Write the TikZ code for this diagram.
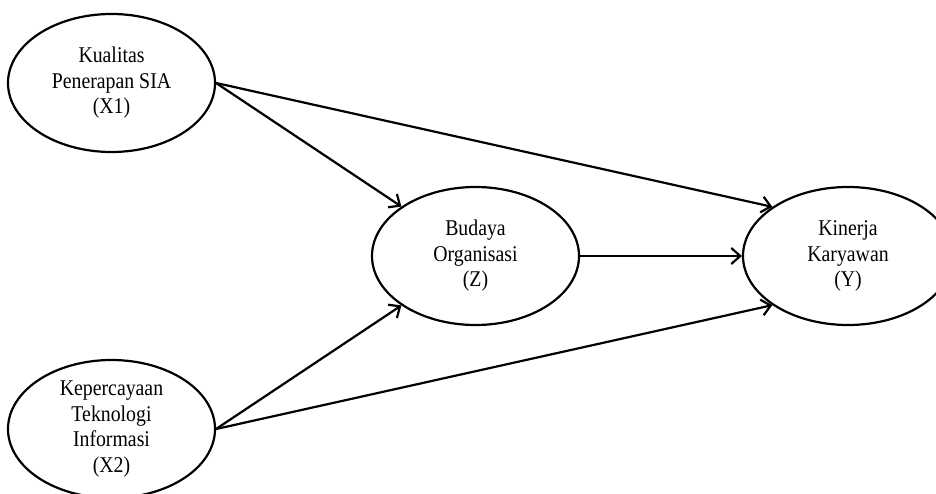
\documentclass[tikz,border=0pt]{standalone}
\usepackage{fontspec}
\setmainfont{Liberation Serif}[FakeStretch=0.88]
\usetikzlibrary{shapes.geometric,arrows.meta}
\begin{document}
\begin{tikzpicture}[x=1pt, y=-1pt, line width=2.2pt, >={Straight Barb[length=9pt,width=16pt]}, var node/.style={ellipse,draw,minimum width=207pt,minimum height=138pt,inner sep=0pt,align=center,font=\fontsize{22.5}{25.5}\selectfont}]
\useasboundingbox (0,0) rectangle (936,494);
\node [var node](x1) at (111.5,83) {Kualitas\\Penerapan SIA\\(X1)};
\node [var node](x2) at (111.5,429) {Kepercayaan\\Teknologi\\Informasi\\(X2)};
\node [var node](z) at (475.5,256) {Budaya\\Organisasi\\(Z)};
\node [var node, minimum width=210pt](y) at (848,256) {Kinerja\\Karyawan\\(Y)};
\draw [->] (x1.east) -- (z);
\draw [->] (x1.east) -- (y.147);
\draw [->] (x2.east) -- (z);
\draw [->] (x2.east) -- (y.213);
\draw [->] (z) -- (y);
\end{tikzpicture}
\end{document}
